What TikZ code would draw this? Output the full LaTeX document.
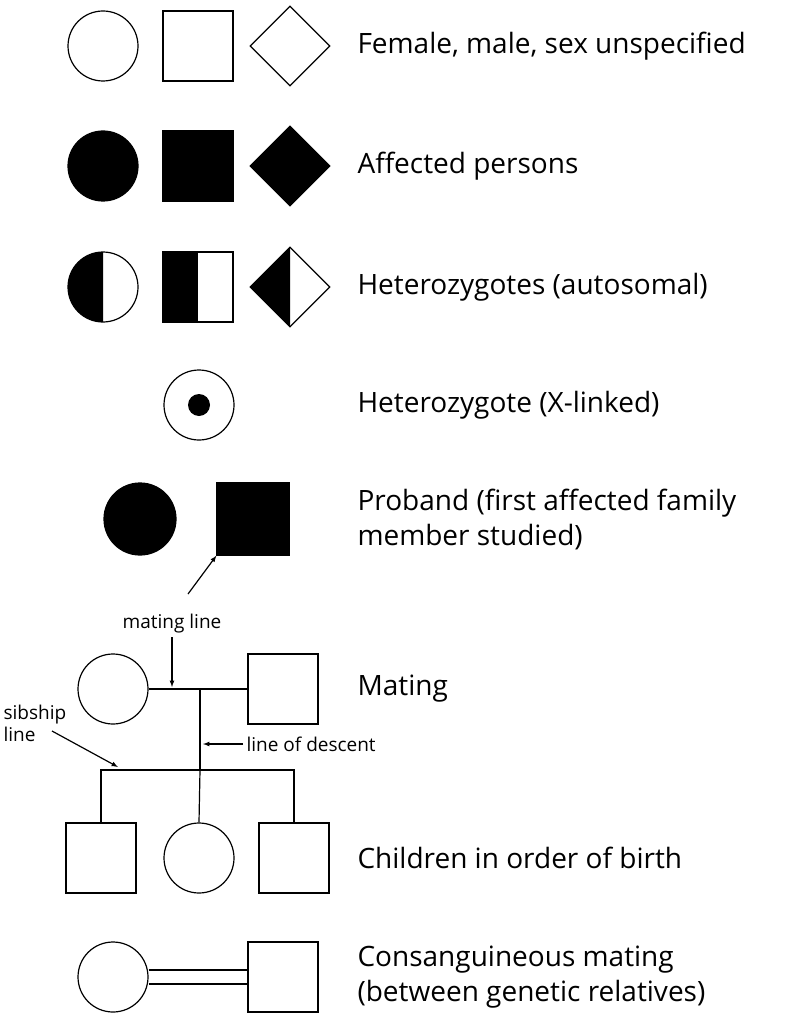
\documentclass[tikz,border=0pt]{standalone}
\usepackage{fontspec}
\setmainfont{Open Sans}
\usetikzlibrary{shapes.geometric,positioning}
\tikzset{
  pcirc/.style={circle,draw,line width=1.2pt,minimum size=70pt,inner sep=0pt},
  psq/.style={rectangle,draw,line width=1.2pt,minimum size=70pt,inner sep=0pt},
  pdia/.style={diamond,draw,line width=1.2pt,minimum size=80pt,inner sep=0pt},
  lbl/.style={anchor=west,font=\fontsize{28}{35}\selectfont,align=left},
  small/.style={font=\fontsize{19}{22}\selectfont,align=left},
  ln/.style={line width=1.2pt},
  arr/.style={line width=1.2pt,-latex}
}
\begin{document}
\begin{tikzpicture}[x=1pt,y=1pt,yscale=-1]
\useasboundingbox (0,0) rectangle (787,1024);

% row 1: symbols
\node[pcirc] (f1) at (103,46) {};
\node[psq] (m1) at (198,46) {};
\node[pdia] (u1) at (290,46) {};
\node[lbl] (t1) at (354,46) {Female, male, sex unspecified};

% row 2: affected
\node[pcirc,fill=black] (f2) at (103,166) {};
\node[psq,fill=black] (m2) at (198,166) {};
\node[pdia,fill=black] (u2) at (290,166) {};
\node[lbl] (t2) at (354,166) {Affected persons};

% row 3: heterozygotes
\fill (103,252) arc (-90:-270:35) -- cycle;
\node[pcirc] (f3) at (103,287) {};
\fill (163,252) rectangle (198,322);
\node[psq] (m3) at (198,287) {};
\fill (290,247) -- (250,287) -- (290,327) -- cycle;
\node[pdia] (u3) at (290,287) {};
\node[lbl] (t3) at (354,287) {Heterozygotes (autosomal)};

% row 4: x-linked
\node[pcirc] (f4) at (199,405) {};
\fill (199,405) circle (11);
\node[lbl] (t4) at (354,405) {Heterozygote (X-linked)};

% row 5: proband
\node[pcirc,fill=black,minimum size=72pt] (f5) at (140,519) {};
\node[psq,fill=black,minimum size=72pt] (m5) at (253,519) {};
\coordinate (pb) at (188,594);
\draw[arr] (pb) -- (m5.south west);
\node[lbl] (t5) at (354,519) {Proband (first affected family\\member studied)};

% mating
\node[pcirc] (mf) at (113,689) {};
\node[psq] (mm) at (283,689) {};
\draw[ln] (mf) -- (mm);
\coordinate (mid) at (200,689);
\coordinate (sib) at (200,770);
\draw[ln] (mid) -- (sib);
\node[small] (mlab) at (172,624) {mating line};
\draw[arr] (mlab.south -| 172,0) -- (172,687);
\node[lbl] (t6) at (354,689) {Mating};

% children
\node[psq] (c1) at (101,858) {};
\node[pcirc] (c2) at (199,858) {};
\node[psq] (c3) at (294,858) {};
\draw[ln] (c1.north) |- (sib) -| (c3.north);
\draw[ln] (sib) -- (c2.north);
\node[small,anchor=west] (dlab) at (243,744) {line of descent};
\draw[arr] (dlab.west) -- (203,744);
\node[small,anchor=north west] (slab) at (0,702) {sibship\\line};
\draw[arr] (52,731) -- (118,767);
\node[lbl] (t7) at (354,858) {Children in order of birth};

% consanguineous
\node[pcirc] (cf) at (113,977) {};
\node[psq] (cm) at (283,977) {};
\draw[ln] ([yshift=-7pt]cf.east) -- ([yshift=-7pt]cm.west);
\draw[ln] ([yshift=7pt]cf.east) -- ([yshift=7pt]cm.west);
\node[lbl] (t8) at (354,977) {Consanguineous mating\\(between genetic relatives)};
\end{tikzpicture}
\end{document}
